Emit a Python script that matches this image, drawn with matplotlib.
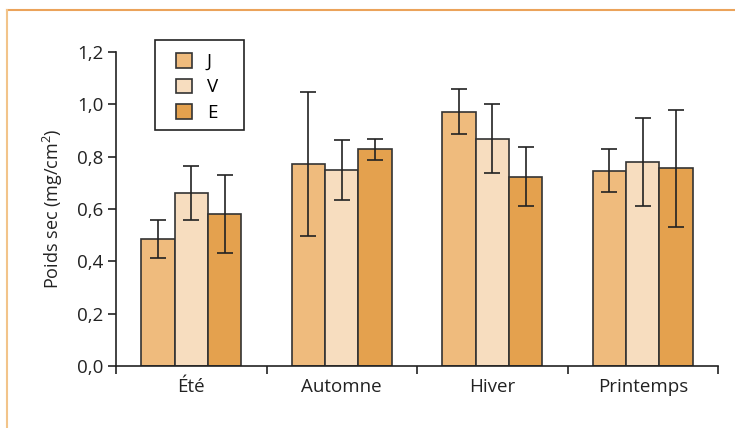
import matplotlib
matplotlib.use("Agg")
import matplotlib.pyplot as plt
import numpy as np
from matplotlib.lines import Line2D
from matplotlib.patches import Rectangle

plt.rcParams['font.family'] = ['Open Sans', 'DejaVu Sans']
plt.rcParams['mathtext.fontset'] = 'custom'
plt.rcParams['mathtext.rm'] = 'Open Sans'

categories = ["Été", "Automne", "Hiver", "Printemps"]
series = ["J", "V", "E"]
J_vals = [0.485, 0.772, 0.972, 0.747]
V_vals = [0.660, 0.749, 0.869, 0.780]
E_vals = [0.581, 0.828, 0.724, 0.755]
J_err = [0.072, 0.275, 0.087, 0.081]
V_err = [0.103, 0.116, 0.132, 0.167]
E_err = [0.148, 0.041, 0.112, 0.224]
yticks = [0.0, 0.2, 0.4, 0.6, 0.8, 1.0, 1.2]
ytick_labels = ["0,0", "0,2", "0,4", "0,6", "0,8", "1,0", "1,2"]
colors = ["#EFBB7D", "#F7DDBF", "#E4A14E"]

W, H = 735, 428
fig = plt.figure(figsize=(W/100, H/100), dpi=100)
ax = fig.add_axes([116/W, 1-366/H, (718-116)/W, (366-52)/H])

x = np.arange(len(categories))
w = 0.222
vals = [J_vals, V_vals, E_vals]
errs = [J_err, V_err, E_err]
for i, (v, e, c, s) in enumerate(zip(vals, errs, colors, series)):
    ax.bar(x + (i - 1) * w, v, width=w, color=c, edgecolor="#333333", linewidth=1.2,
           label=s, zorder=2)
    ax.errorbar(x + (i - 1) * w, v, yerr=e, fmt="none", ecolor="#222222",
                elinewidth=1.2, capsize=5.5, capthick=1.2, zorder=3)

ax.set_xlim(-0.5, 3.5)
ax.set_ylim(0, 1.2)
ax.set_yticks(yticks)
ax.set_yticklabels(ytick_labels)
ax.set_xticks(x)
ax.set_xticklabels(categories)
ax.set_xticks(np.arange(-0.5, 3.6, 1.0), minor=True)
ax.tick_params(axis="x", which="major", length=0, pad=9, labelsize=13.5, colors="#222222")
ax.tick_params(axis="x", which="minor", length=6, width=1.2, direction="out", color="#222222")
ax.tick_params(axis="y", length=6, width=1.2, direction="out", labelsize=13.5,
               colors="#222222", pad=3)
for sp in ["top", "right"]:
    ax.spines[sp].set_visible(False)
for sp in ["left", "bottom"]:
    ax.spines[sp].set_linewidth(1.2)
    ax.spines[sp].set_color("#222222")

ax.set_ylabel("Poids sec (mg/cm$^{2}$)", fontsize=13, color="#222222", labelpad=9)

# legend frame (pixel box 155..244 x 40..130)
fig.add_artist(Rectangle((155/W, 1-130/H), (244-155)/W, (130-40)/H, transform=fig.transFigure,
                         facecolor="white", edgecolor="#222222", linewidth=1.2, zorder=4))
handles, labels = ax.get_legend_handles_labels()
leg = fig.legend(handles, labels, loc="upper left", bbox_to_anchor=(176/W, 1-53/H),
                 frameon=False, fontsize=13.5, handlelength=0.85,
                 handleheight=0.85, handletextpad=0.8, borderpad=0, labelspacing=0.4,
                 borderaxespad=0)
leg.set_zorder(5)

fig.add_artist(Line2D([7/W, 1], [1-9.5/H, 1-9.5/H], color="#EBA35A", linewidth=1.5,
                      transform=fig.transFigure))
fig.add_artist(Line2D([7/W, 7/W], [0, 1-9.5/H], color="#F2C48A", linewidth=1.5,
                      transform=fig.transFigure))

fig.savefig("out.png", dpi=100)
